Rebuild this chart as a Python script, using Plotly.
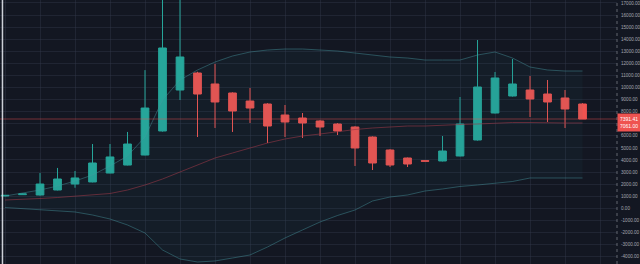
import plotly.graph_objects as go

# Candle index (one bar per period)
idx = list(range(34))

open_ = [1020, 1130, 1100, 1515, 2010, 2180, 2920, 3580, 4410, 6400,
         9790, 11200, 10290, 9545, 8880, 8634, 7723, 7475, 7227, 6978,
         6730, 5900, 4826, 4164, 3940, 3916, 4330, 5654, 7889, 9296,
         9793, 9462, 9131, 8634]
high = [1100, 1230, 2920, 3340, 3090, 5320, 5320, 6320, 11440, 19800,
        17800, 11300, 11950, 9600, 9960, 8700, 8551, 7889, 7300, 7050,
        6800, 5950, 4900, 4200, 3960, 5985, 9213, 13932, 11283, 12359,
        10952, 10621, 9793, 8700]
low = [1000, 1100, 1050, 1480, 1700, 2150, 2900, 3550, 4380, 6350,
       8965, 5900, 6650, 6320, 7060, 5406, 5900, 5820, 5985, 6068,
       3502, 3170, 3419, 3419, 3880, 3880, 4300, 5600, 7850, 9250,
       7558, 7144, 6647, 7391.41]
close = [1070, 1190, 2010, 2425, 2510, 3750, 4250, 5320, 8300, 13270,
         12525, 9460, 8800, 8055, 8300, 6810, 7144, 7061, 6730, 6399,
         4992, 3750, 3584, 3667, 3900, 4743, 6978, 10041, 10787, 10290,
         9048, 8800, 8220, 7391.41]

# Bollinger band (20, 2)
bb_upper = [1018, 1267, 1515, 1846, 2260, 2757, 3502, 4330, 5902, 8965,
            10620, 11449, 12111, 12608, 12939, 13104, 13187, 13187, 13104, 13021,
            12856, 12690, 12525, 12442, 12276, 12276, 12276, 12690, 12939, 12442,
            11697, 11449, 11366, 11366]
bb_basis = [687, 728, 811, 894, 1018, 1101, 1225, 1515, 1929, 2425,
            3005, 3584, 4164, 4578, 4992, 5405, 5736, 5985, 6150, 6357,
            6523, 6647, 6730, 6813, 6813, 6895, 6937, 6978, 7061, 7102,
            7102, 7061, 7061, 7061]
bb_lower = [66, -17, -99, -182, -306, -555, -886, -1382, -2044, -3452,
            -4197, -4445, -4362, -4114, -3866, -3204, -2458, -1795, -1134, -596,
            -141, 604, 935, 1101, 1432, 1598, 1805, 1929, 2053, 2218,
            2508, 2508, 2508, 2508]

price_ticks = list(range(-4000, 18000, 1000))
# the scale label under the last-price tag is hidden by the tag
price_tick_text = ["" if v == 7000 else f"{v:.2f}" for v in price_ticks]

BG = "#131722"
UP = "#26a69a"
DOWN = "#ef5350"
GRID = "rgba(54,60,78,0.38)"
BAND = "rgba(70,150,160,0.45)"
BASIS = "rgba(150,55,70,0.6)"

fig = go.Figure()

# band fill and edges
fig.add_trace(go.Scatter(x=idx, y=bb_upper, mode="lines",
                         line=dict(color=BAND, width=1), hoverinfo="skip"))
fig.add_trace(go.Scatter(x=idx, y=bb_lower, mode="lines",
                         line=dict(color=BAND, width=1), fill="tonexty",
                         fillcolor="rgba(40,120,130,0.07)", hoverinfo="skip"))
fig.add_trace(go.Scatter(x=idx, y=bb_basis, mode="lines",
                         line=dict(color=BASIS, width=1), hoverinfo="skip"))

# last price line
fig.add_trace(go.Scatter(x=[-1, 36], y=[close[-1], close[-1]], mode="lines",
                         line=dict(color="rgba(239,83,80,0.45)", width=1),
                         hoverinfo="skip"))

fig.add_trace(go.Candlestick(
    x=idx, open=open_, high=high, low=low, close=close,
    increasing=dict(line=dict(color=UP, width=1), fillcolor=UP),
    decreasing=dict(line=dict(color=DOWN, width=1), fillcolor=DOWN),
    whiskerwidth=0, hoverinfo="skip",
))

fig.update_layout(
    width=640, height=264,
    margin=dict(l=0, r=23, t=0, b=0),
    paper_bgcolor=BG, plot_bgcolor=BG,
    showlegend=False,
    boxgap=0.37,
    font=dict(family="Liberation Sans, Arial, sans-serif", color="#9598a1"),
    xaxis=dict(range=[-0.286, 34.97], tickvals=list(range(0, 36, 2)),
               showticklabels=False, showgrid=True, gridcolor=GRID,
               gridwidth=1, zeroline=False, rangeslider=dict(visible=False),
               fixedrange=True),
    yaxis=dict(side="right", range=[-4611, 17243], tickvals=price_ticks,
               ticktext=price_tick_text, tickfont=dict(size=4.6, color="#a3a6af"),
               ticks="", ticklabelstandoff=3, showgrid=True, gridcolor=GRID,
               gridwidth=1, zeroline=False, fixedrange=True),
    shapes=[
        dict(type="line", xref="paper", yref="paper", x0=1, x1=1, y0=0, y1=1,
             line=dict(color="rgba(150,155,165,0.6)", width=1, dash="dot")),
        dict(type="line", xref="paper", yref="paper", x0=0.004, x1=0.004, y0=0, y1=1,
             line=dict(color="rgba(225,228,235,0.9)", width=1.5)),
    ],
    annotations=[
        dict(xref="paper", x=1.0, xanchor="left", yref="y", y=close[-1],
             yanchor="top", yshift=6,
             text=f"{close[-1]:.2f}<br>{bb_basis[-1]:.2f}",
             showarrow=False, bgcolor=DOWN, borderpad=2,
             width=19, font=dict(size=5, color="#ffffff"), align="left"),
    ],
)

fig.write_html("out.html", config={"displayModeBar": False, "staticPlot": True})
